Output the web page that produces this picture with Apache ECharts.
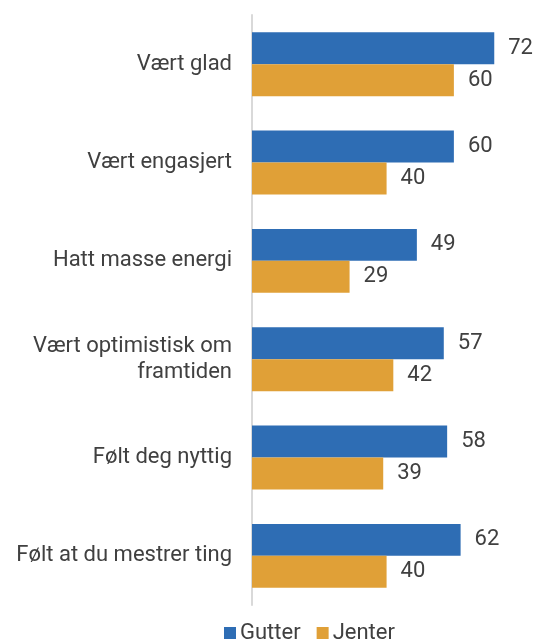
<!doctype html>
<html lang="no">
<head>
<meta charset="utf-8">
<script src="https://cdn.jsdelivr.net/npm/echarts@6/dist/echarts.min.js"></script>
<style>
  html, body { margin: 0; padding: 0; background: #fff; }
  #chart { width: 543px; height: 641px; }
</style>
</head>
<body>
<div id="chart"></div>
<script>
    const categories = ['Vært glad', 'Vært engasjert', 'Hatt masse energi', 'Vært optimistisk om\nframtiden', 'Følt deg nyttig', 'Følt at du mestrer ting'];
    const gutter = [72, 60, 49, 57, 58, 62];
    const jenter = [60, 40, 29, 42, 39, 40];

    let chart = echarts.init(document.getElementById('chart'));

    const labelStyle = {show: true, position: 'right', distance: 14, color: '#404040', fontSize: 22, fontFamily: 'Roboto'};

    chart.setOption({
        animation: false,
        textStyle: {fontFamily: 'Roboto'},
        grid: {left: 252, right: 5, top: 15, bottom: 36},
        legend: {
            top: 622, left: 224, padding: 0,
            itemWidth: 12, itemHeight: 12, itemGap: 16,
            icon: 'rect',
            textStyle: {color: '#404040', fontSize: 22, fontFamily: 'Roboto', padding: [0, 0, 0, -1]},
            data: ['Gutter', 'Jenter']
        },
        xAxis: {type: 'value', min: 0, max: 85, show: false},
        yAxis: {
            type: 'category',
            data: categories,
            inverse: true,
            axisLine: {show: true, lineStyle: {color: '#d9d9d9', width: 2}},
            axisTick: {show: false},
            axisLabel: {color: '#404040', fontSize: 22, margin: 20, lineHeight: 26, fontFamily: 'Roboto'}
        },
        series: [
            {name: 'Gutter', type: 'bar', data: gutter, color: '#2E6DB4', barGap: '0%', barCategoryGap: '35%', label: labelStyle},
            {name: 'Jenter', type: 'bar', data: jenter, color: '#E0A037', label: labelStyle}
        ]
    });
</script>
</body>
</html>
